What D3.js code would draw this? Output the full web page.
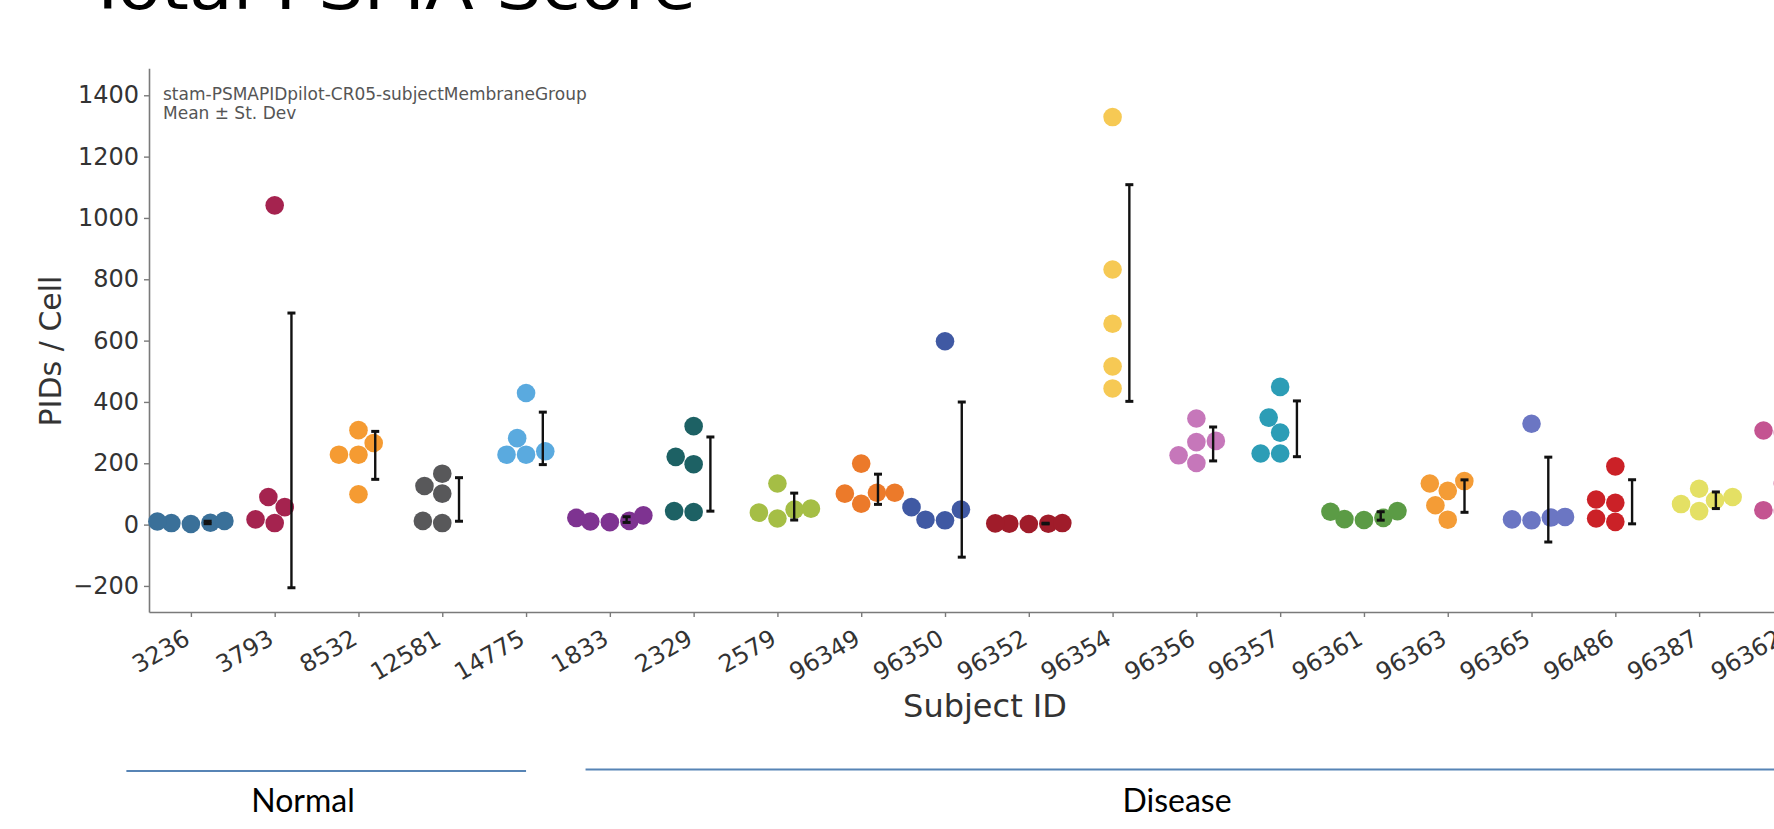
<!DOCTYPE html>
<html>
<head>
<meta charset="utf-8">
<script src="https://cdn.jsdelivr.net/npm/d3@7"></script>
<style>
  html, body { margin: 0; padding: 0; background: #ffffff; overflow: hidden; }
  svg { display: block; }
</style>
</head>
<body>
<svg id="chart" width="1774" height="829"></svg>
<script>
// ---------------- data ----------------
const categories = ["3236","3793","8532","12581","14775","1833","2329","2579","96349","96350",
                    "96352","96354","96356","96357","96361","96363","96365","96486","96387","96362"];

const v3236  = [10, 5, 2, 6, 12];
const v3793  = [1041, 90, 57, 17, 5];
const v8532  = [308, 266, 228, 228, 99];
const v12581 = [166, 126, 101, 12, 5];
const v14775 = [429, 282, 228, 228, 239];
const v1833  = [22, 12, 8, 10, 30];
const v2329  = [321, 221, 197, 44, 41];
const v2579  = [134, 39, 20, 49, 52];
const v96349 = [199, 101, 104, 104, 68];
const v96350 = [598, 57, 16, 14, 49];
const v96352 = [4, 3, 2, 3, 5];
const v96354 = [1329, 832, 655, 516, 444];
const v96356 = [346, 269, 273, 226, 201];
const v96357 = [449, 349, 300, 232, 232];
const v96361 = [44, 18, 22, 15, 42];
const v96363 = [134, 142, 110, 63, 16];
const v96365 = [329, 17, 14, 23, 25];
const v96486 = [190, 82, 71, 20, 9];
const v96387 = [117, 67, 44, 79, 90];
const v96362 = [307, 300, 135, 47, 44];

const seriesValues = [v3236, v3793, v8532, v12581, v14775, v1833, v2329, v2579, v96349, v96350,
                      v96352, v96354, v96356, v96357, v96361, v96363, v96365, v96486, v96387, v96362];

const colors = ["#3a7099","#a5234f","#f59b32","#58585a","#5aaadf","#7e3391","#1d6164","#a5be45","#ec7a2a","#4059a3",
                "#a01c2a","#f6c954","#c677ba","#2c9db6","#5b9b45","#f49c36","#6b76c3","#cb2127","#e4e064","#c45491"];

const yTicks = [-200, 0, 200, 400, 600, 800, 1000, 1200, 1400];

const titleText = "Total PSMA Score";
const noteLines = ["stam-PSMAPIDpilot-CR05-subjectMembraneGroup", "Mean \u00b1 St. Dev"];
const xTitle = "Subject ID";
const yTitle = "PIDs / Cell";
const groupNames = ["Normal", "Disease"];

// ---------------- layout ----------------
const svg = d3.select("#chart");
const axisY0 = 612, axisTop = 68.3, axisLeft = 149;
const step = 83.79;

const x = d3.scalePoint().domain(categories)
  .range([axisLeft, axisLeft + categories.length * step]).padding(0.5);
const y = d3.scaleLinear().domain([-285, 1488]).range([axisY0, axisTop]);

const axisFont = "DejaVu Sans, sans-serif";
const axisColor = "#7a7a7a";

// title (cropped at top of slide)
svg.append("text")
  .attr("x", 86).attr("y", 9)
  .attr("font-family", axisFont).attr("font-size", 64)
  .attr("textLength", 610).attr("lengthAdjust", "spacingAndGlyphs")
  .attr("fill", "#000").text(titleText);

// y axis
const gy = svg.append("g").attr("transform", `translate(${axisLeft},0)`)
  .call(d3.axisLeft(y).tickValues(yTicks).tickFormat(d3.format("d"))
        .tickSize(5).tickSizeOuter(0).tickPadding(5));
gy.select(".domain").attr("stroke", axisColor).attr("stroke-width", 1.6);
gy.selectAll(".tick line").attr("stroke", axisColor).attr("stroke-width", 1.4);
gy.selectAll(".tick text").attr("font-family", axisFont).attr("font-size", 24).attr("fill", "#333");

// x axis
const gx = svg.append("g").attr("transform", `translate(0,${axisY0})`)
  .call(d3.axisBottom(x).tickSize(5).tickSizeOuter(0));
gx.select(".domain").attr("stroke", axisColor).attr("stroke-width", 1.6);
gx.selectAll(".tick line").attr("stroke", axisColor).attr("stroke-width", 1.4);
gx.selectAll(".tick text")
  .attr("font-family", axisFont).attr("font-size", 24).attr("fill", "#333")
  .attr("x", 0).attr("y", 0).attr("dy", 0)
  .attr("text-anchor", "end")
  .attr("transform", "translate(0,31) rotate(-30)");

// axis titles
svg.append("text")
  .attr("transform", `translate(61,351) rotate(-90)`)
  .attr("text-anchor", "middle")
  .attr("font-family", axisFont).attr("font-size", 30).attr("fill", "#333")
  .text(yTitle);
svg.append("text")
  .attr("x", 985).attr("y", 717).attr("text-anchor", "middle")
  .attr("font-family", axisFont).attr("font-size", 32).attr("fill", "#333")
  .text(xTitle);

// annotation
noteLines.forEach((t, i) => {
  svg.append("text").attr("x", 163).attr("y", 100 + i * 19)
    .attr("font-family", axisFont).attr("font-size", 17).attr("fill", "#555")
    .text(t);
});

// ---------------- swarm (seaborn-like, with gutters) ----------------
const r = 9.3, d = 2 * r;
const halfWidth = 0.4 * step;
function swarm(vals, cx) {
  const pts = vals.map(v => ({ v, py: y(v) })).sort((a, b) => a.v - b.v);
  const placed = [];
  pts.forEach(p => {
    const nb = placed.filter(q => Math.abs(q.py - p.py) < d);
    const cands = [cx];
    nb.forEach(q => {
      const dy = p.py - q.py;
      const dx = Math.sqrt(d * d - dy * dy) * 1.05;
      cands.push(q.sx - dx, q.sx + dx);
    });
    const order = cands.map((c, i) => ({ c, i }))
      .sort((a, b) => (Math.abs(a.c - cx) - Math.abs(b.c - cx)) || (a.i - b.i));
    let chosen = cx;
    for (const o of order) {
      const ok = nb.every(q => (o.c - q.sx) ** 2 + (p.py - q.py) ** 2 >= d * d - 0.01);
      if (ok) { chosen = o.c; break; }
    }
    p.sx = chosen;
    placed.push(p);
  });
  placed.forEach(p => { p.px = Math.max(cx - halfWidth, Math.min(cx + halfWidth, p.sx)); });
  return placed;
}

const plot = svg.append("g");
categories.forEach((cat, i) => {
  const vals = seriesValues[i];
  const cx = x(cat);
  const pts = swarm(vals, cx);
  plot.append("g").selectAll("circle").data(pts).join("circle")
    .attr("cx", p => p.px).attr("cy", p => p.py).attr("r", r)
    .attr("fill", colors[i]);
});

// error bars (mean ± sample SD)
const eb = svg.append("g").attr("stroke", "#111").attr("stroke-width", 2.4);
categories.forEach((cat, i) => {
  const vals = seriesValues[i];
  const m = d3.mean(vals), s = d3.deviation(vals);
  const ex = x(cat) + 0.2 * step;
  eb.append("line").attr("x1", ex).attr("x2", ex).attr("y1", y(m - s)).attr("y2", y(m + s));
  [m - s, m + s].forEach(v => {
    eb.append("line").attr("x1", ex - 4).attr("x2", ex + 4).attr("y1", y(v)).attr("y2", y(v))
      .attr("stroke-width", 3);
  });
});

// group bracket lines (slide annotation)
const lineColor = "#5784b5";
const normalX0 = x(categories[0]) - 0.77 * step, normalX1 = x("14775");
const diseaseX0 = x("1833") - 0.29 * step, diseaseX1 = 1800;
svg.append("line").attr("x1", normalX0).attr("x2", normalX1).attr("y1", 771).attr("y2", 771)
  .attr("stroke", lineColor).attr("stroke-width", 2.2);
svg.append("line").attr("x1", diseaseX0).attr("x2", diseaseX1).attr("y1", 769.5).attr("y2", 769.5)
  .attr("stroke", lineColor).attr("stroke-width", 2.2);
svg.append("text").attr("x", 303).attr("y", 812).attr("text-anchor", "middle")
  .attr("font-family", "Lato, sans-serif").attr("font-size", 32).attr("fill", "#000").text(groupNames[0]);
svg.append("text").attr("x", 1177).attr("y", 812).attr("text-anchor", "middle")
  .attr("font-family", "Lato, sans-serif").attr("font-size", 32).attr("fill", "#000").text(groupNames[1]);
</script>
</body>
</html>
